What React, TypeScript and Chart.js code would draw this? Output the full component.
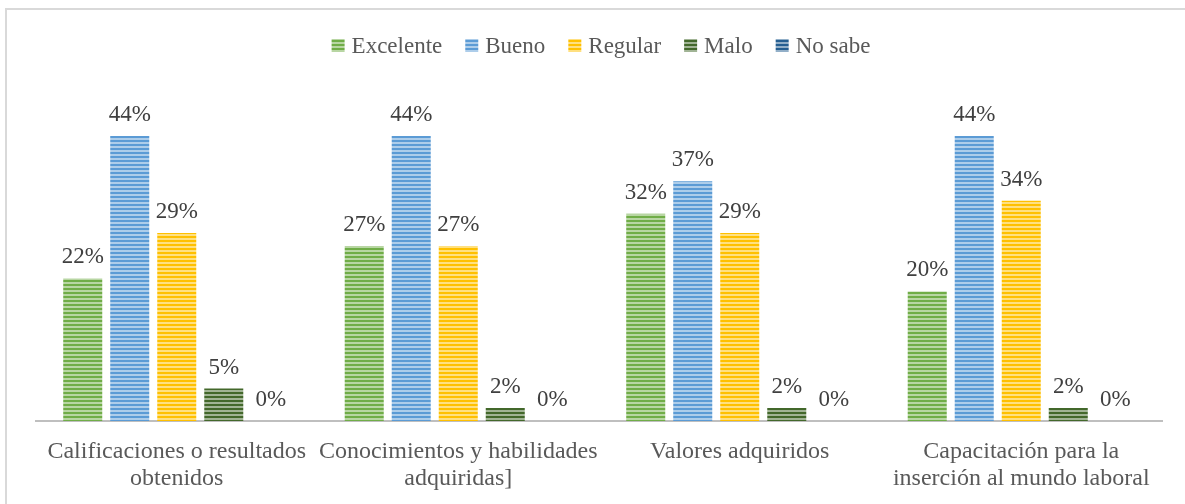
import React, { useEffect, useRef } from "react";
import { Chart, registerables } from "chart.js";

Chart.register(...registerables);

const categories: string[][] = [
  ["Calificaciones o resultados", "obtenidos"],
  ["Conocimientos y habilidades", "adquiridas]"],
  ["Valores adquiridos"],
  ["Capacitación para la", "inserción al mundo laboral"],
];
const seriesNames = ["Excelente", "Bueno", "Regular", "Malo", "No sabe"];
const excelente = [22, 27, 32, 20];
const bueno = [44, 44, 37, 44];
const regular = [29, 27, 29, 34];
const malo = [5, 2, 2, 2];
const noSabe = [0, 0, 0, 0];
const seriesColors = ["#70ad47", "#5b9bd5", "#ffc000", "#43682b", "#255e91"];

const FONT = "'Liberation Serif', 'Times New Roman', serif";

function tint(hex: string, amt: number): string {
  const n = parseInt(hex.slice(1), 16);
  const r = (n >> 16) & 255, g = (n >> 8) & 255, b = n & 255;
  const m = (c: number) => Math.round(c + (255 - c) * amt);
  return `rgb(${m(r)},${m(g)},${m(b)})`;
}

function makePattern(ctx: CanvasRenderingContext2D, color: string): CanvasPattern | string {
  const c = document.createElement("canvas");
  c.width = 4;
  c.height = 4;
  const p = c.getContext("2d");
  if (!p) return color;
  p.fillStyle = color;
  p.fillRect(0, 0, 4, 2);
  p.fillStyle = tint(color, 0.5);
  p.fillRect(0, 2, 4, 2);
  return ctx.createPattern(c, "repeat") || color;
}

const labelPlugin = {
  id: "valueLabels",
  afterDatasetsDraw(chart: any) {
    const ctx = chart.ctx as CanvasRenderingContext2D;
    ctx.save();
    ctx.font = `23px ${FONT}`;
    ctx.fillStyle = "#404040";
    ctx.textAlign = "center";
    ctx.textBaseline = "alphabetic";
    chart.data.datasets.forEach((ds: any, i: number) => {
      const meta = chart.getDatasetMeta(i);
      meta.data.forEach((bar: any, j: number) => {
        ctx.fillText(`${ds.data[j]}%`, bar.x, bar.y - 15);
      });
    });
    ctx.restore();
  },
};

const legendPlugin = {
  id: "customLegend",
  afterDraw(chart: any) {
    const ctx = chart.ctx as CanvasRenderingContext2D;
    ctx.save();
    ctx.font = `23px ${FONT}`;
    const box = 13, gap = 7, itemGap = 23;
    const widths = seriesNames.map((n) => ctx.measureText(n).width);
    const total = widths.reduce((a, w) => a + box + gap + w, 0) + itemGap * (seriesNames.length - 1);
    let x = 601 - total / 2;
    const yBox = 39;
    seriesNames.forEach((n, i) => {
      const ds = chart.data.datasets[i];
      ctx.fillStyle = ds.backgroundColor;
      ctx.fillRect(x, yBox, box, box);
      x += box + gap;
      ctx.fillStyle = "#595959";
      ctx.textBaseline = "alphabetic";
      ctx.textAlign = "left";
      ctx.fillText(n, x, 53);
      x += widths[i] + itemGap;
    });
    ctx.restore();
  },
};

export default function App() {
  const ref = useRef<HTMLCanvasElement>(null);
  useEffect(() => {
    const canvas = ref.current;
    if (!canvas) return;
    const ctx = canvas.getContext("2d")!;
    const values = [excelente, bueno, regular, malo, noSabe];
    const chart = new Chart(canvas, {
      type: "bar",
      data: {
        labels: categories,
        datasets: seriesNames.map((name, i) => ({
          label: name,
          data: values[i],
          backgroundColor: makePattern(ctx, seriesColors[i]) as any,
          borderWidth: 0,
          categoryPercentage: 0.835,
          barPercentage: 0.83,
        })),
      },
      options: {
        responsive: false,
        animation: false,
        devicePixelRatio: 1,
        layout: { padding: { left: 36, right: 23, top: 97, bottom: 11 } },
        plugins: {
          legend: { display: false },
          tooltip: { enabled: false },
        },
        scales: {
          x: {
            grid: { display: false, drawTicks: false },
            border: { display: true, color: "#bfbfbf", width: 2 },
            ticks: {
              autoSkip: false,
              maxRotation: 0,
              minRotation: 0,
              padding: 17,
              color: "#595959",
              font: { family: FONT, size: 24, lineHeight: 27 / 24 },
            },
          },
          y: {
            display: false,
            min: 0,
            max: 50,
          },
        },
      },
      plugins: [labelPlugin, legendPlugin],
    });
    return () => chart.destroy();
  }, []);

  return (
    <div style={{ position: "fixed", left: 0, top: 0, width: 1185, height: 504, background: "#fff", overflow: "hidden" }}>
      <div
        style={{
          position: "absolute",
          left: 5,
          top: 8,
          width: 1300,
          height: 600,
          borderLeft: "2px solid #d9d9d9",
          borderTop: "2px solid #d9d9d9",
        }}
      />
      <canvas ref={ref} width={1185} height={520} style={{ position: "absolute", left: 0, top: 0, width: 1185, height: 520 }} />
    </div>
  );
}
